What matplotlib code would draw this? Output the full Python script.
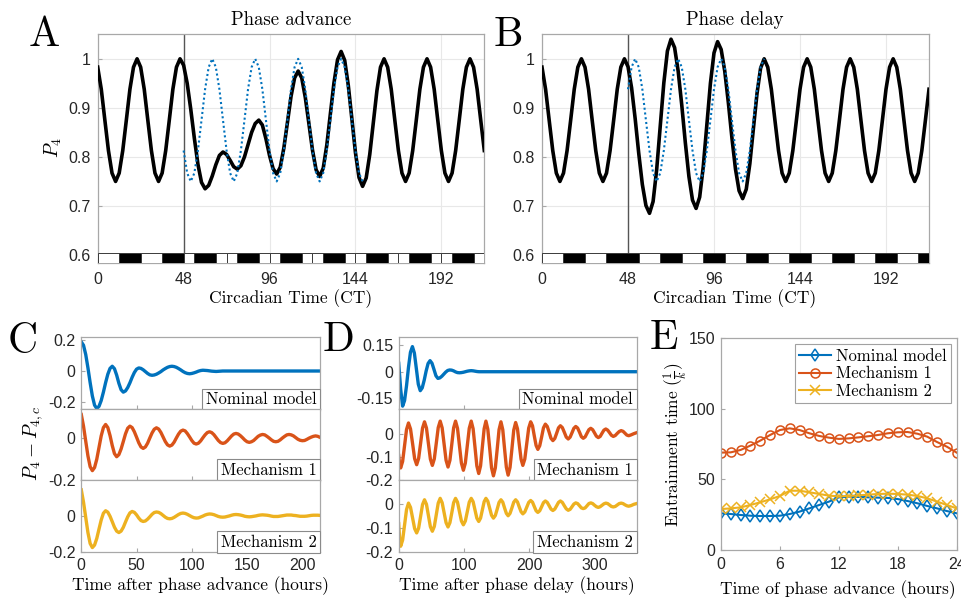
import numpy as np
import matplotlib
matplotlib.use("Agg")
import matplotlib.pyplot as plt
from matplotlib.patches import Rectangle

plt.rcParams.update({
    "font.family": "Liberation Sans",
    "mathtext.fontset": "cm",
    "axes.unicode_minus": False,
})
SERIF = "cmr10"
BLUE = "#0072BD"
ORANGE = "#D95319"
YELLOW = "#EDB120"
FRAME = "#a8a8a8"
GRID = "#e8e8e8"
TICKTXT = "#262626"

# ---------------- Panels A/B: P4 over circadian time (2 h samples) ----------------
ct_hours = np.arange(0, 217, 2)

p4_advance = [
    0.983, 0.938, 0.875, 0.813, 0.767, 0.750, 0.767, 0.813, 0.875, 0.938, 0.983, 1.000,
    0.983, 0.938, 0.875, 0.813, 0.767, 0.750, 0.767, 0.813, 0.875, 0.938, 0.983, 1.000,
    0.987, 0.950, 0.897, 0.838, 0.785, 0.748, 0.735,
    0.742, 0.761, 0.784, 0.803, 0.810,
    0.805, 0.793, 0.780, 0.775,
    0.782, 0.800, 0.825, 0.850, 0.868, 0.875,
    0.865, 0.837, 0.803, 0.776, 0.765,
    0.779, 0.818, 0.870, 0.923, 0.961, 0.975,
    0.961, 0.921, 0.868, 0.814, 0.774, 0.760,
    0.777, 0.824, 0.888, 0.951, 0.998, 1.015,
    0.997, 0.946, 0.878, 0.809, 0.758, 0.740,
    0.757, 0.805, 0.870, 0.935, 0.983, 1.000,
    0.983, 0.938, 0.875, 0.813, 0.767, 0.750, 0.767, 0.813, 0.875, 0.938, 0.983, 1.000,
    0.983, 0.938, 0.875, 0.813, 0.767, 0.750, 0.767, 0.813, 0.875, 0.938, 0.983, 1.000,
    0.983, 0.938, 0.875, 0.813,
]

ref_adv_hours = np.arange(48, 149, 2)
p4_advance_target = [
    0.813, 0.767, 0.750, 0.767, 0.813, 0.875, 0.938, 0.983, 1.000, 0.983, 0.938, 0.875,
    0.813, 0.767, 0.750, 0.767, 0.813, 0.875, 0.938, 0.983, 1.000, 0.983, 0.938, 0.875,
    0.813, 0.767, 0.750, 0.767, 0.813, 0.875, 0.938, 0.983, 1.000, 0.983, 0.938, 0.875,
    0.813, 0.767, 0.750, 0.767, 0.813, 0.875, 0.938, 0.983, 1.000, 0.983, 0.938, 0.875,
    0.813, 0.767, 0.750,
]

p4_delay = [
    0.983, 0.938, 0.875, 0.813, 0.767, 0.750, 0.767, 0.813, 0.875, 0.938, 0.983, 1.000,
    0.983, 0.938, 0.875, 0.813, 0.767, 0.750, 0.767, 0.813, 0.875, 0.938, 0.983, 1.000,
    0.984, 0.941, 0.878, 0.807, 0.744, 0.701, 0.685,
    0.709, 0.774, 0.863, 0.951, 1.016, 1.040,
    1.023, 0.975, 0.906, 0.829, 0.760, 0.712, 0.695,
    0.718, 0.780, 0.865, 0.950, 1.012, 1.035,
    1.019, 0.975, 0.911, 0.839, 0.775, 0.731, 0.715,
    0.734, 0.786, 0.858, 0.929, 0.981, 1.000,
    0.983, 0.938, 0.875, 0.813, 0.767, 0.750, 0.767, 0.813, 0.875, 0.938, 0.983, 1.000,
    0.983, 0.938, 0.875, 0.813, 0.767, 0.750, 0.767, 0.813, 0.875, 0.938, 0.983, 1.000,
    0.983, 0.938, 0.875, 0.813, 0.767, 0.750, 0.767, 0.813, 0.875, 0.938, 0.983, 1.000,
    0.983, 0.938, 0.875, 0.813, 0.767, 0.750, 0.767, 0.813, 0.875, 0.938,
]

ref_del_hours = np.arange(48, 125, 2)
p4_delay_target = [
    0.938, 0.983, 1.000, 0.983, 0.938, 0.875, 0.813, 0.767, 0.750, 0.767, 0.813, 0.875,
    0.938, 0.983, 1.000, 0.983, 0.938, 0.875, 0.813, 0.767, 0.750, 0.767, 0.813, 0.875,
    0.938, 0.983, 1.000, 0.983, 0.938, 0.875, 0.813, 0.767, 0.750, 0.767, 0.813, 0.875,
    0.938, 0.983, 1.000,
]

# light/dark schedule boxes (start, end, dark?)
ld_adv_start = [0, 12, 24, 36, 48, 54, 66, 72, 78, 90, 96, 102, 114, 120, 126, 138,
                144, 150, 162, 168, 174, 186, 192, 198, 210]
ld_adv_end = [12, 24, 36, 48, 54, 66, 72, 78, 90, 96, 102, 114, 120, 126, 138, 144,
              150, 162, 168, 174, 186, 192, 198, 210, 216]
ld_adv_dark = [0, 1, 0, 1, 0, 1, 0, 0, 1, 0, 0, 1, 0, 0, 1, 0, 0, 1, 0, 0, 1, 0, 0, 1, 0]

ld_del_start = [0, 12, 24, 36, 54, 66, 78, 90, 102, 114, 126, 138, 150, 162, 174, 186, 198, 210]
ld_del_end = [12, 24, 36, 54, 66, 78, 90, 102, 114, 126, 138, 150, 162, 174, 186, 198, 210, 216]
ld_del_dark = [0, 1, 0, 1, 0, 1, 0, 1, 0, 1, 0, 1, 0, 1, 0, 1, 0, 1]

# ---------------- Panel C: deviation after phase advance (2 h samples) ----------------
adv_hours = np.arange(0, 217, 2)
c_nominal = [
    0.190, 0.168, 0.108, 0.021, -0.076, -0.163, -0.223, -0.245,
    -0.231, -0.193, -0.138, -0.076, -0.021, 0.017, 0.031,
    0.015, -0.027, -0.080, -0.122, -0.138,
    -0.130, -0.108, -0.077, -0.041, -0.010, 0.012, 0.020,
    0.017, 0.008, -0.004, -0.016, -0.025, -0.028,
    -0.026, -0.021, -0.013, -0.004, 0.007, 0.016, 0.024, 0.029, 0.031,
    0.029, 0.024, 0.016, 0.007, -0.003, -0.011, -0.016, -0.018,
    -0.016, -0.012, -0.007, -0.001, 0.003, 0.005,
    0.004, 0.003, 0.001, -0.001, -0.002, -0.003,
    -0.002, -0.001, 0.000, 0.000, 0.000, 0.000, 0.000, 0.000, 0.000, 0.000,
    0.000, 0.000, 0.000, 0.000, 0.000, 0.000, 0.000, 0.000, 0.000, 0.000,
    0.000, 0.000, 0.000, 0.000, 0.000, 0.000, 0.000, 0.000, 0.000, 0.000,
    0.000, 0.000, 0.000, 0.000, 0.000, 0.000, 0.000, 0.000, 0.000, 0.000,
    0.000, 0.000, 0.000, 0.000, 0.000, 0.000, 0.000,
]
c_mech1 = [
    0.115, 0.059, -0.013, -0.084, -0.136, -0.155,
    -0.140, -0.100, -0.044, 0.012, 0.052, 0.067,
    0.052, 0.014, -0.034, -0.073, -0.088,
    -0.078, -0.051, -0.015, 0.022, 0.049, 0.059,
    0.052, 0.032, 0.006, -0.021, -0.041, -0.048,
    -0.041, -0.023, 0.002, 0.026, 0.044, 0.051,
    0.045, 0.029, 0.007, -0.015, -0.031, -0.037,
    -0.032, -0.018, 0.002, 0.021, 0.035, 0.040,
    0.036, 0.023, 0.007, -0.010, -0.023, -0.027,
    -0.023, -0.012, 0.003, 0.017, 0.028, 0.032,
    0.028, 0.018, 0.004, -0.010, -0.020, -0.024,
    -0.021, -0.012, 0.000, 0.012, 0.021, 0.024,
    0.021, 0.013, 0.003, -0.008, -0.016, -0.019,
    -0.016, -0.010, 0.000, 0.010, 0.016, 0.019,
    0.017, 0.010, 0.002, -0.007, -0.014, -0.016,
    -0.014, -0.007, 0.002, 0.010, 0.017, 0.019,
    0.017, 0.012, 0.004, -0.004, -0.009, -0.011,
    -0.010, -0.005, 0.001, 0.006, 0.010, 0.012,
    0.010, 0.005,
]
c_mech2 = [
    0.145, 0.076, -0.009, -0.094, -0.155, -0.178,
    -0.164, -0.127, -0.075, -0.024, 0.014, 0.028,
    0.020, -0.003, -0.033, -0.064, -0.086, -0.094,
    -0.086, -0.065, -0.035, -0.006, 0.016, 0.024,
    0.019, 0.005, -0.013, -0.027, -0.032,
    -0.029, -0.019, -0.006, 0.008, 0.018, 0.021,
    0.019, 0.012, 0.002, -0.008, -0.015, -0.017,
    -0.015, -0.009, -0.001, 0.007, 0.013, 0.015,
    0.013, 0.008, 0.001, -0.006, -0.011, -0.013,
    -0.012, -0.007, -0.002, 0.004, 0.008, 0.010,
    0.009, 0.006, 0.001, -0.004, -0.007, -0.008,
    -0.007, -0.004, -0.001, 0.003, 0.006, 0.007,
    0.006, 0.004, 0.001, -0.003, -0.005, -0.006,
    -0.005, -0.003, -0.001, 0.002, 0.004, 0.005,
    0.004, 0.003, 0.001, -0.002, -0.004, -0.004,
    -0.004, -0.002, 0.000, 0.002, 0.004, 0.004,
    0.004, 0.002, 0.001, -0.001, -0.003, -0.003,
    -0.003, -0.002, 0.000, 0.002, 0.003, 0.003,
    0.003, 0.002,
]

# ---------------- Panel D: deviation after phase delay ----------------
nom_del_hours = np.arange(0, 364, 3)
d_nominal = [
    0.048, -0.100, -0.196, -0.164, -0.079, 0.026, 0.111, 0.143, 0.106, 0.018,
    -0.071, -0.108, -0.092, -0.049, 0.004, 0.047, 0.063, 0.048, 0.013, -0.023,
    -0.038, -0.035, -0.026, -0.014, -0.002, 0.007, 0.010, 0.009, 0.005, -0.001,
    -0.005, -0.006, -0.005, -0.003, 0.000, 0.003, 0.005, 0.006, 0.005, 0.003,
    0.001,
    0.000, 0.000, 0.000, 0.000, 0.000, 0.000, 0.000, 0.000, 0.000, 0.000,
    0.000, 0.000, 0.000, 0.000, 0.000, 0.000, 0.000, 0.000, 0.000, 0.000,
    0.000, 0.000, 0.000, 0.000, 0.000, 0.000, 0.000, 0.000, 0.000, 0.000,
    0.000, 0.000, 0.000, 0.000, 0.000, 0.000, 0.000, 0.000, 0.000, 0.000,
    0.000, 0.000, 0.000, 0.000, 0.000, 0.000, 0.000, 0.000, 0.000, 0.000,
    0.000, 0.000, 0.000, 0.000, 0.000, 0.000, 0.000, 0.000, 0.000, 0.000,
    0.000, 0.000, 0.000, 0.000, 0.000, 0.000, 0.000, 0.000, 0.000, 0.000,
    0.000, 0.000, 0.000, 0.000, 0.000, 0.000, 0.000, 0.000, 0.000, 0.000,
    0.000,
]

del_hours = [
    0, 1.5,
    3, 6, 9, 12,
    15, 18.1, 21.3, 24.4,
    27.5, 30.5, 33.5, 36.5,
    39.5, 42.5, 45.5, 48.5,
    51.5, 54.5, 57.5, 60.5,
    63.5, 66.5, 69.5, 72.5,
    75.5, 78.4, 81.3, 84.1,
    87, 90, 93, 96,
    99, 102, 105, 108,
    111, 113.9, 116.8, 119.6,
    122.5, 125.3, 128, 130.8,
    133.5, 136.4, 139.3, 142.1,
    145, 147.9, 150.8, 153.6,
    156.5, 159.3, 162, 164.8,
    167.5, 170.4, 173.3, 176.1,
    179, 181.8, 184.5, 187.3,
    190, 193, 196, 199,
    202, 204.8, 207.5, 210.3,
    213, 215.9, 218.8, 221.6,
    224.5, 227.4, 230.3, 233.1,
    236, 238.9, 241.8, 244.6,
    247.5, 250.5, 253.5, 256.5,
    259.5, 262.4, 265.3, 268.1,
    271, 273.9, 276.8, 279.6,
    282.5, 285.4, 288.3, 291.1,
    294, 296.9, 299.8, 302.6,
    305.5, 308.4, 311.3, 314.1,
    317, 319.9, 322.8, 325.6,
    328.5, 331.5, 334.5, 337.5,
    340.5, 343.4, 346.3, 349.1,
    352, 356, 360, 364,
]
d_mech1 = [
    -0.094, -0.132,
    -0.148, -0.120, -0.051, 0.018,
    0.046, 0.020, -0.044, -0.108,
    -0.134, -0.107, -0.042, 0.024,
    0.051, 0.024, -0.043, -0.110,
    -0.137, -0.109, -0.042, 0.026,
    0.054, 0.025, -0.045, -0.115,
    -0.144, -0.115, -0.045, 0.025,
    0.054, 0.023, -0.052, -0.127,
    -0.158, -0.127, -0.052, 0.023,
    0.054, 0.021, -0.059, -0.139,
    -0.172, -0.139, -0.059, 0.021,
    0.054, 0.019, -0.064, -0.147,
    -0.182, -0.148, -0.066, 0.017,
    0.051, 0.017, -0.064, -0.145,
    -0.179, -0.146, -0.066, 0.015,
    0.048, 0.021, -0.045, -0.110,
    -0.137, -0.110, -0.043, 0.024,
    0.051, 0.034, -0.009, -0.051,
    -0.068, -0.052, -0.014, 0.025,
    0.041, 0.031, 0.006, -0.020,
    -0.030, -0.021, 0.002, 0.025,
    0.034, 0.026, 0.006, -0.015,
    -0.023, -0.015, 0.004, 0.023,
    0.031, 0.024, 0.006, -0.013,
    -0.020, -0.014, 0.002, 0.017,
    0.023, 0.017, 0.003, -0.011,
    -0.017, -0.012, 0.002, 0.015,
    0.020, 0.015, 0.004, -0.007,
    -0.012, -0.008, 0.001, 0.009,
    0.013, 0.010, 0.002, -0.006,
    -0.009, -0.005, 0.000, 0.004,
]
d_mech2 = [
    -0.083, -0.150,
    -0.178, -0.152, -0.088, -0.024,
    0.003, -0.015, -0.060, -0.104,
    -0.122, -0.102, -0.053, -0.003,
    0.017, -0.002, -0.049, -0.096,
    -0.115, -0.095, -0.046, 0.003,
    0.023, 0.005, -0.037, -0.079,
    -0.097, -0.079, -0.037, 0.005,
    0.023, 0.007, -0.033, -0.072,
    -0.088, -0.072, -0.033, 0.007,
    0.023, 0.009, -0.026, -0.060,
    -0.074, -0.060, -0.026, 0.009,
    0.023, 0.011, -0.019, -0.048,
    -0.060, -0.049, -0.022, 0.006,
    0.017, 0.007, -0.017, -0.040,
    -0.050, -0.040, -0.017, 0.007,
    0.017, 0.008, -0.013, -0.033,
    -0.042, -0.034, -0.014, 0.006,
    0.014, 0.007, -0.011, -0.029,
    -0.036, -0.029, -0.012, 0.005,
    0.012, 0.006, -0.008, -0.022,
    -0.028, -0.022, -0.008, 0.006,
    0.012, 0.006, -0.008, -0.021,
    -0.027, -0.023, -0.012, -0.001,
    0.004, 0.001, -0.008, -0.017,
    -0.020, -0.017, -0.008, 0.001,
    0.004, 0.001, -0.006, -0.012,
    -0.015, -0.012, -0.006, 0.000,
    0.003, 0.001, -0.005, -0.011,
    -0.013, -0.011, -0.005, 0.001,
    0.003, 0.001, -0.004, -0.008,
    -0.010, -0.007, -0.002, 0.001,
]

# ---------------- Panel E: entrainment time ----------------
advance_time = np.arange(0, 25, 1)
e_nominal = [26.0, 25.5, 24.8, 24.3, 24.1, 24.1, 24.3, 25.5, 27.2, 29.5, 31.9, 34.3, 37.3,
             37.8, 37.6, 37.3, 37.1, 36.9, 36.1, 34.7, 33.1, 31.2, 29.5, 27.6, 26.0]
e_mech1 = [69.0, 69.2, 70.9, 74.0, 77.5, 81.5, 85.0, 86.2, 85.0, 82.7, 80.8, 79.6, 78.7,
           79.1, 79.8, 80.6, 81.5, 82.7, 83.4, 83.6, 82.4, 80.3, 76.5, 73.2, 69.0]
e_mech2 = [29.0, 29.5, 30.2, 31.9, 33.8, 35.9, 38.3, 42.0, 42.0, 40.9, 39.7, 38.5, 38.0,
           38.3, 38.7, 39.2, 39.7, 39.9, 39.7, 39.2, 38.3, 36.6, 34.3, 31.9, 29.5]

series_names = ["Nominal model", "Mechanism 1", "Mechanism 2"]

# ---------------------------------------------------------------------------
W, H = 962, 604
fig = plt.figure(figsize=(W / 100, H / 100), dpi=100)


def box(left, top, right, bottom):
    return [left / W, 1 - bottom / H, (right - left) / W, (bottom - top) / H]


def ftext(x, y, s, **kw):
    fig.text(x / W, 1 - y / H, s, ha="center", va="center", **kw)


def style_axes(ax):
    for sp in ax.spines.values():
        sp.set_color(FRAME)
        sp.set_linewidth(0.9)
    ax.tick_params(direction="in", length=3, width=0.8, color=FRAME,
                   labelsize=11.5, labelcolor=TICKTXT)


LD_LOW, LD_HIGH = 0.5843, 0.6035


def circadian_panel(rect, p4, ref_t, ref_p4, ld_s, ld_e, ld_d):
    ax = fig.add_axes(rect)
    style_axes(ax)
    ax.grid(True, color=GRID, lw=0.8)
    ax.set_axisbelow(True)
    ax.axvline(48, color="#555555", lw=1.0, zorder=2)
    ax.plot(ct_hours, p4, color="black", lw=2.6, zorder=3)
    ax.plot(ref_t, ref_p4, color=BLUE, lw=1.5, ls=(0, (1, 1.3)), zorder=4)
    for s, e, d in zip(ld_s, ld_e, ld_d):
        ax.add_patch(Rectangle((s, LD_LOW), e - s, LD_HIGH - LD_LOW,
                               facecolor="black" if d else "white",
                               edgecolor="#3a3a3a", lw=0.7, zorder=5))
    ax.set_xlim(0, 216)
    ax.set_ylim(LD_LOW, 1.05)
    ax.set_xticks([0, 48, 96, 144, 192])
    ax.set_yticks([0.6, 0.7, 0.8, 0.9, 1.0])
    ax.set_yticklabels(["0.6", "0.7", "0.8", "0.9", "1"])
    ax.tick_params(axis="x", pad=7)
    ax.tick_params(axis="y", pad=5)
    return ax


circadian_panel(box(97.7, 34.3, 484.3, 262.7), p4_advance, ref_adv_hours,
                p4_advance_target, ld_adv_start, ld_adv_end, ld_adv_dark)
circadian_panel(box(542, 34.3, 929, 262.7), p4_delay, ref_del_hours,
                p4_delay_target, ld_del_start, ld_del_end, ld_del_dark)


def stacked_panel(left, right, xs, ys, ylims, yticks, ytick_labels, xlim, xticks):
    edges = [337.3, 409.3, 480.0, 551.5]
    colors = [BLUE, ORANGE, YELLOW]
    axes = []
    for i in range(3):
        ax = fig.add_axes(box(left, edges[i], right, edges[i + 1]))
        style_axes(ax)
        ax.plot(xs[i], ys[i], color=colors[i], lw=2.4)
        ax.set_xlim(*xlim)
        ax.set_ylim(*ylims[i])
        ax.set_yticks(yticks[i])
        ax.set_yticklabels(ytick_labels[i])
        ax.set_xticks(xticks)
        ax.tick_params(axis="y", pad=4)
        ax.tick_params(axis="x", pad=5)
        if i < 2:
            ax.tick_params(axis="x", labelbottom=False)
        ax.text(0.985, 0.025, series_names[i], transform=ax.transAxes,
                ha="right", va="bottom", fontfamily=SERIF, fontsize=12,
                bbox=dict(boxstyle="square,pad=0.22", fc="white",
                          ec="#8a8a8a", lw=0.8))
        axes.append(ax)
    return axes


stacked_panel(81.3, 320.0, [adv_hours, adv_hours, adv_hours],
              [c_nominal, c_mech1, c_mech2],
              [(-0.25, 0.22), (-0.2, 0.14), (-0.2, 0.2)],
              [[-0.2, 0, 0.2], [-0.2, 0], [-0.2, 0]],
              [["-0.2", "0", "0.2"], ["-0.2", "0"], ["-0.2", "0"]],
              (0, 216), [0, 50, 100, 150, 200])

stacked_panel(398.7, 636.5, [nom_del_hours, del_hours, del_hours],
              [d_nominal, d_mech1, d_mech2],
              [(-0.214, 0.196), (-0.2, 0.105), (-0.2, 0.1)],
              [[-0.15, 0, 0.15], [-0.2, -0.1, 0], [-0.2, -0.1, 0]],
              [["-0.15", "0", "0.15"], ["-0.2", "-0.1", "0"], ["-0.2", "-0.1", "0"]],
              (0, 364), [0, 100, 200, 300])

# Panel E
axE = fig.add_axes(box(721, 338.3, 956.7, 550))
style_axes(axE)
axE.plot(advance_time, e_nominal, color=BLUE, lw=1.5, marker="d", ms=6.5,
         mfc="none", mew=1.1, label=series_names[0])
axE.plot(advance_time, e_mech1, color=ORANGE, lw=1.5, marker="o", ms=6.5,
         mfc="none", mew=1.1, label=series_names[1])
axE.plot(advance_time, e_mech2, color=YELLOW, lw=1.5, marker="x", ms=6.5,
         mew=1.1, label=series_names[2])
axE.set_xlim(0, 24)
axE.set_ylim(0, 150)
axE.set_xticks([0, 6, 12, 18, 24])
axE.set_yticks([0, 50, 100, 150])
axE.tick_params(axis="x", pad=5)
axE.tick_params(axis="y", pad=4)
leg = axE.legend(loc="upper right", prop={"family": SERIF, "size": 12},
                 frameon=True, fancybox=False, edgecolor="#8a8a8a",
                 borderpad=0.25, labelspacing=0.15, handlelength=1.9,
                 handletextpad=0.3, borderaxespad=0.35)
leg.get_frame().set_linewidth(0.8)

# Titles, axis labels and panel letters
ftext(291, 20, "Phase advance", fontfamily=SERIF, fontsize=13.5)
ftext(735, 20, "Phase delay", fontfamily=SERIF, fontsize=13.5)
ftext(291, 299, "Circadian Time (CT)", fontfamily=SERIF, fontsize=12.5)
ftext(735, 299, "Circadian Time (CT)", fontfamily=SERIF, fontsize=12.5)
ftext(53, 148, "$P_4$", fontsize=14, rotation=90)
ftext(33, 443, "$P_4 - P_{4,c}$", fontsize=14, rotation=90)
ftext(200, 586, "Time after phase advance (hours)", fontfamily=SERIF, fontsize=12.5)
ftext(517, 586, "Time after phase delay (hours)", fontfamily=SERIF, fontsize=12.5)
ftext(838, 590, "Time of phase advance (hours)", fontfamily=SERIF, fontsize=12.5)
ftext(676, 445, r"Entrainment time $(\frac{1}{k})$", fontfamily=SERIF,
      fontsize=12.5, rotation=90)

for letter, x, y in [("A", 44, 35), ("B", 508, 35), ("C", 23, 342),
                     ("D", 339, 340), ("E", 664, 338)]:
    ftext(x, y, letter, fontfamily=SERIF, fontsize=30)

fig.savefig("out.png", dpi=100)
